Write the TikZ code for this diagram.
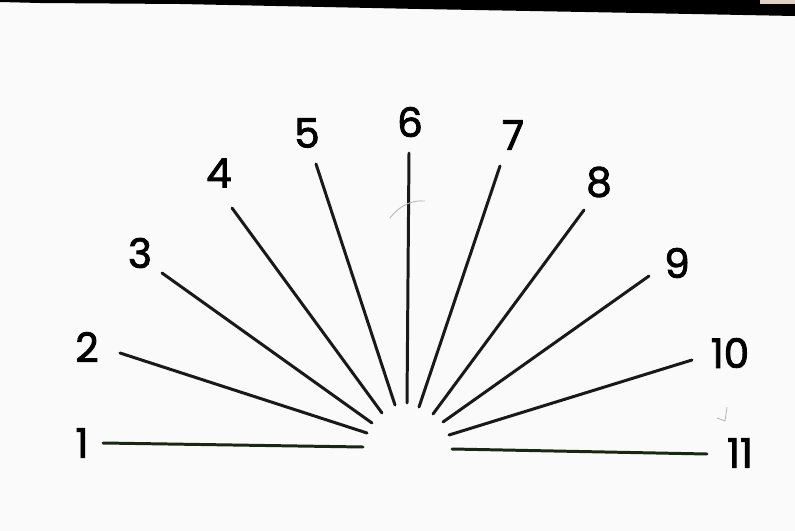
\documentclass[tikz,border=0pt]{standalone}
\usepackage{fontspec}
\setmainfont{Poppins}
\newfontfamily\cifras{Poppins}[FakeBold=2.2]
\usepackage{xcolor}
\usetikzlibrary{calc}
\definecolor{papel}{RGB}{250,250,250}
\definecolor{verdoso}{RGB}{22,40,18}
\tikzset{
  rayo/.style={draw=black!90,line width=1.7pt,line cap=round},
  rayoverde/.style={draw=verdoso,line width=1.7pt,line cap=round},
  num/.style={font=\fontsize{23}{26}\cifras,inner sep=0pt},
  lapiz/.style={draw=gray!55,line width=0.5pt}
}
\begin{document}
\begin{tikzpicture}[x=0.02cm,y=-0.02cm]
\useasboundingbox (0,0) rectangle (795,531);
\fill[papel] (0,0) rectangle (795,531);
% borde negro del escaneo
\fill[black] (0,0) -- (795,0) -- (795,16) -- (640,13) -- (420,9) -- (180,4) -- (40,3) -- (0,2) -- cycle;
\fill[black!20!brown!30] (760,0) rectangle (795,4);
% rayos 2 a 10
\foreach \k/\xo/\yo/\xi/\yi/\lx/\ly in {
  2/120/353/367/433/87/347,
  3/162/273/372/423/140/253,
  4/232/208/382/413/219/173,
  5/316/164/395/405/307/133,
  6/409/153/407/403/410/122,
  7/500/166/419/407/513/135,
  8/584/210/433/414/599/182,
  9/649/276/443/422/677/263,
  10/692/360/449/435/730/353}{
  \coordinate (o\k) at (\xo,\yo);
  \coordinate (i\k) at (\xi,\yi);
  \draw[rayo] (o\k) -- (i\k);
  \node[num] (n\k) at (\lx,\ly) {\k};
}
% horizontales
\coordinate (o1) at (103,443); \coordinate (i1) at (363,447);
\coordinate (o11) at (707,454); \coordinate (i11) at (452,449);
\draw[rayoverde] (o1) -- (i1);
\draw[rayoverde] (i11) -- (o11);
\node[num] (n1) at (82,443) {1};
\node[num] (n11) at (740,453) {11};
% trazos de lapiz
\draw[lapiz] (390,218) .. controls (400,205) and (412,200) .. (425,201);
\draw[lapiz] (727,407) -- (725,421) -- (717,418);
\end{tikzpicture}
\end{document}
